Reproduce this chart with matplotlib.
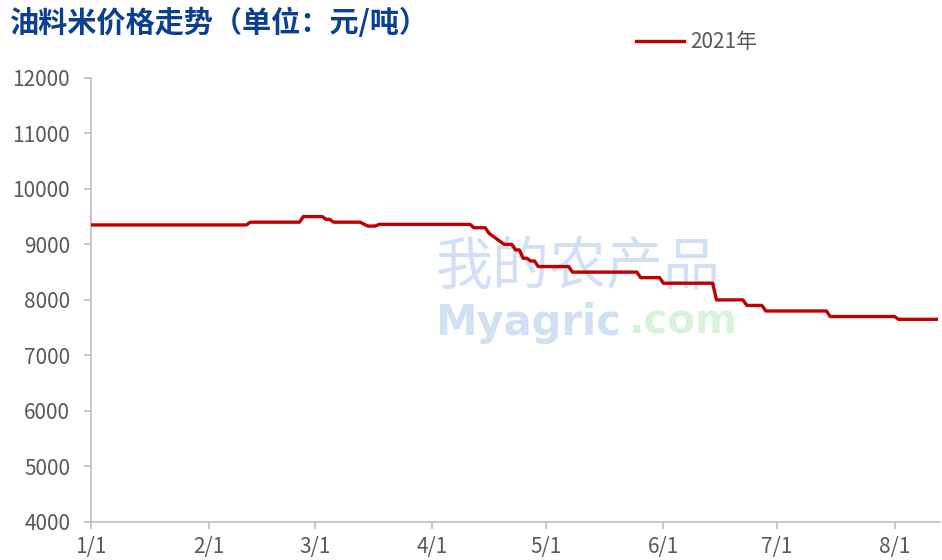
import matplotlib.pyplot as plt
import matplotlib.dates as mdates
import pandas as pd

plt.rcParams['font.family'] = ['Liberation Sans Narrow', 'Noto Sans CJK SC', 'DejaVu Sans']

# 油料米价格 (元/吨), 2021 at each change
dates = ['2021-01-01', '2021-02-11', '2021-02-12', '2021-02-25', '2021-02-26',
         '2021-03-03', '2021-03-04', '2021-03-05', '2021-03-06', '2021-03-13',
         '2021-03-15', '2021-03-17', '2021-03-18', '2021-04-11', '2021-04-12',
         '2021-04-15', '2021-04-16', '2021-04-17', '2021-04-18', '2021-04-19',
         '2021-04-20', '2021-04-22', '2021-04-23', '2021-04-24', '2021-04-25',
         '2021-04-26', '2021-04-27', '2021-04-28', '2021-04-29', '2021-05-07',
         '2021-05-08', '2021-05-25', '2021-05-26', '2021-05-31', '2021-06-01',
         '2021-06-14', '2021-06-15', '2021-06-22', '2021-06-23', '2021-06-27',
         '2021-06-28', '2021-07-14', '2021-07-15', '2021-08-01', '2021-08-02',
         '2021-08-12']
prices = [9350, 9350, 9400, 9400, 9500,
          9500, 9450, 9450, 9400, 9400,
          9330, 9330, 9360, 9360, 9300,
          9300, 9200, 9150, 9100, 9050,
          9000, 9000, 8900, 8900, 8750,
          8750, 8700, 8700, 8600, 8600,
          8500, 8500, 8400, 8400, 8300,
          8300, 8000, 8000, 7900, 7900,
          7800, 7800, 7700, 7700, 7650,
          7650]
series_name = '2021年'
title = '油料米价格走势（单位：元/吨）'
yticks = list(range(4000, 12001, 1000))
xtick_dates = ['2021-01-01', '2021-02-01', '2021-03-01', '2021-04-01',
               '2021-05-01', '2021-06-01', '2021-07-01', '2021-08-01']

x = pd.to_datetime(dates)
grey = '#595959'
axis_grey = '#bfbfbf'

fig = plt.figure(figsize=(9.42, 5.6), dpi=100)
ax = fig.add_axes([0.0966, 0.068, 0.9014, 0.793])
ax.set_zorder(2)  # keep the line above the watermark

# watermark
fig.text(0.462, 0.522, '我的农产品', fontsize=41, color='#d2e0f4',
         family=['Noto Sans CJK SC'], ha='left', va='center', zorder=0)
fig.text(0.462, 0.424, 'Myagric', fontsize=30, fontweight='bold', color='#d2e0f4',
         family=['DejaVu Sans'], ha='left', va='center', zorder=0)
fig.text(0.668, 0.424, '.com', fontsize=29, fontweight='bold', color='#d8f2dc',
         family=['DejaVu Sans'], ha='left', va='center', zorder=0)

ax.plot(x, prices, color='#c00000', lw=2.4, label=series_name, zorder=3)

ax.set_ylim(4000, 12000)
ax.set_yticks(yticks)
ax.set_xlim(pd.Timestamp('2021-01-01'), pd.Timestamp('2021-08-13'))
ax.set_xticks(pd.to_datetime(xtick_dates))
ax.xaxis.set_major_formatter(mdates.DateFormatter('%-m/%-d'))

ax.patch.set_alpha(0)
for s in ['top', 'right']:
    ax.spines[s].set_visible(False)
for s in ['left', 'bottom']:
    ax.spines[s].set_color(axis_grey)
    ax.spines[s].set_linewidth(1.2)
ax.tick_params(axis='both', colors=axis_grey, labelcolor=grey,
               labelsize=15, length=5, width=1.2)
ax.tick_params(axis='y', pad=10)
ax.tick_params(axis='x', pad=5)

fig.text(0.011, 0.96, title, fontsize=21, fontweight='bold', color='#0d3f8f',
         family=['Noto Sans CJK SC'], ha='left', va='center')

leg = fig.legend(loc='center left', bbox_to_anchor=(0.655, 0.925), frameon=False,
                 handlelength=2.3, handletextpad=0.3,
                 prop={'family': ['Liberation Sans Narrow', 'Noto Sans CJK SC'], 'size': 15})
for t in leg.get_texts():
    t.set_color(grey)

fig.savefig('out.png', dpi=100)
